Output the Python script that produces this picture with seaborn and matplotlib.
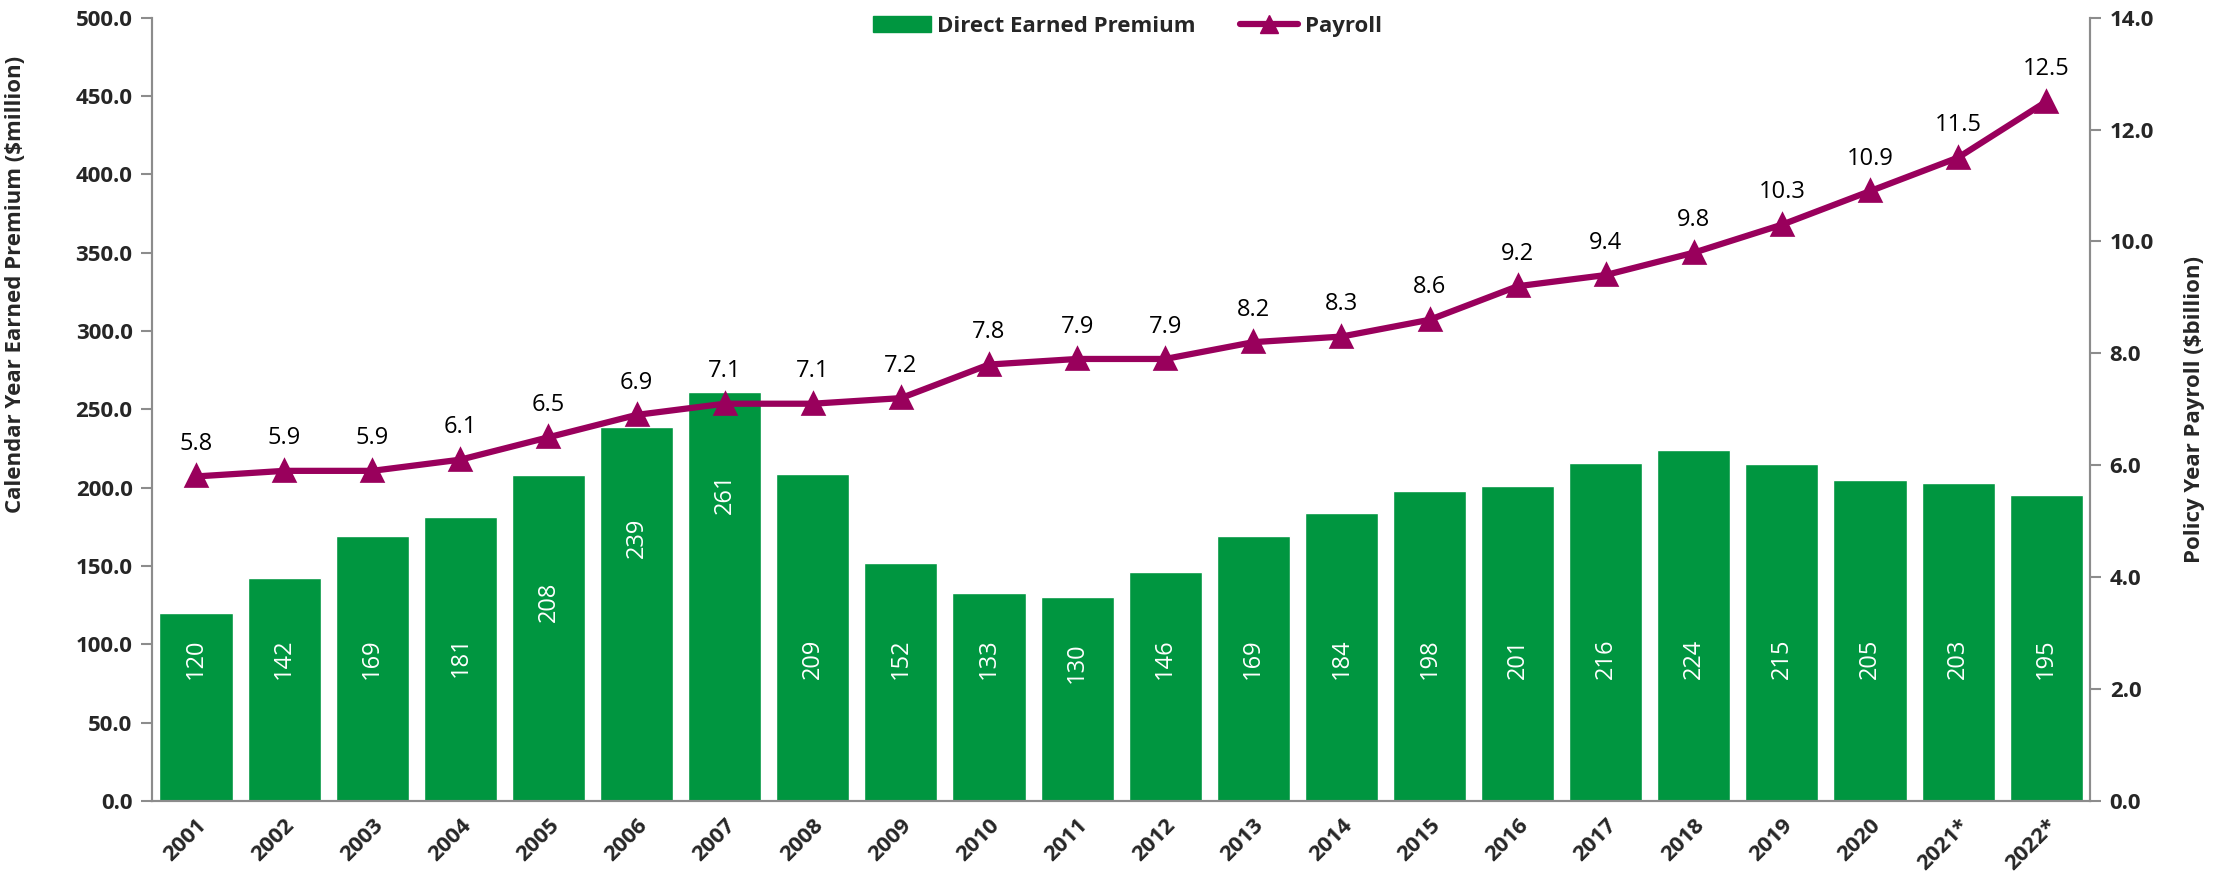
import matplotlib
matplotlib.use("Agg")
import matplotlib.pyplot as plt
import seaborn as sns
import pandas as pd
from matplotlib.patches import Patch
from matplotlib.lines import Line2D

years = ["2001","2002","2003","2004","2005","2006","2007","2008","2009","2010","2011",
         "2012","2013","2014","2015","2016","2017","2018","2019","2020","2021*","2022*"]
premium = [120,142,169,181,208,239,261,209,152,133,130,146,169,184,198,201,216,224,215,205,203,195]
payroll = [5.8,5.9,5.9,6.1,6.5,6.9,7.1,7.1,7.2,7.8,7.9,7.9,8.2,8.3,8.6,9.2,9.4,9.8,10.3,10.9,11.5,12.5]

GREEN = "#009640"
MAROON = "#99005C"
GRAY = "#8c8c8c"

sns.set_theme(style="white")
plt.rcParams['font.family'] = ['Open Sans', 'DejaVu Sans']

df = pd.DataFrame({"year": years, "premium": premium, "payroll": payroll})

fig = plt.figure(figsize=(22.19, 8.85), dpi=100)
ax = fig.add_axes([0.0685, 0.095, 0.8735, 0.885])
sns.barplot(data=df, x="year", y="premium", color=GREEN, saturation=1, width=0.83, ax=ax)
ax.set_ylim(0, 500)
ax.set_xlim(-0.5, len(years) - 0.5)
ax.set_yticks(range(0, 501, 50))
ax.set_yticklabels([f"{v:.1f}" for v in range(0, 501, 50)], fontsize=16, fontweight="bold")
ax.set_xticks(range(len(years)))
ax.set_xticklabels(years, rotation=45, ha="right", rotation_mode="anchor", fontsize=16, fontweight="bold")
ax.tick_params(axis="x", which="major", length=0, pad=10)
ax.set_xticks([i - 0.5 for i in range(len(years) + 1)], minor=True)
ax.tick_params(axis="x", which="minor", length=8, color=GRAY, width=1.5, direction="out")
ax.tick_params(axis="y", length=8, color=GRAY, width=1.5, direction="out", left=True, pad=6)
ax.set_xlabel("")
ax.set_ylabel("Calendar Year Earned Premium ($million)", fontsize=16, fontweight="bold")
ax.yaxis.set_label_coords(-0.065, 0.66)

# bar value labels (white, rotated)
for i, v in enumerate(premium):
    if i < 7:
        yc = max(min(91, v - 42), 91 + max(0, v - 180) * 1.3)
    else:
        yc = min(91, v - 42)
    ax.text(i, yc, str(v), rotation=90, ha="center", va="center", color="white", fontsize=17)

for s in ["left", "right", "bottom"]:
    ax.spines[s].set_color(GRAY)
    ax.spines[s].set_linewidth(1.5)
ax.spines["top"].set_visible(False)

ax2 = ax.twinx()
sns.pointplot(data=df, x="year", y="payroll", color=MAROON, markers="^", linestyles="-",
              ax=ax2, markersize=13, linewidth=4.5)
ax2.set_ylim(0, 14)
ax2.set_xlim(-0.5, len(years) - 0.5)
ax2.set_yticks([0, 2, 4, 6, 8, 10, 12, 14])
ax2.set_yticklabels([f"{v:.1f}" for v in [0, 2, 4, 6, 8, 10, 12, 14]], fontsize=16, fontweight="bold")
ax2.tick_params(axis="y", length=8, color=GRAY, width=1.5, direction="out", right=True, pad=6)
ax2.set_ylabel("Policy Year Payroll ($billion)", fontsize=16, fontweight="bold")
ax2.yaxis.set_label_coords(1.0485, 0.5)
ax2.set_xlabel("")
for s in ["left", "right", "bottom"]:
    ax2.spines[s].set_color(GRAY)
    ax2.spines[s].set_linewidth(1.5)
ax2.spines["top"].set_visible(False)

for i, v in enumerate(payroll):
    ax2.annotate(f"{v:.1f}", (i, v), xytext=(0, 19), textcoords="offset points",
                 ha="center", va="baseline", fontsize=17, color="black")

handles = [Patch(color=GREEN, label="Direct Earned Premium"),
           Line2D([0], [0], color=MAROON, lw=4.5, marker="^", markersize=13, label="Payroll")]
fig.legend(handles=handles, loc="upper center", bbox_to_anchor=(0.508, 1.005), ncol=2,
           frameon=False, prop={"size": 16, "weight": "bold"}, handlelength=2.6, columnspacing=2.0,
           handletextpad=0.3)

fig.savefig("out.png", dpi=100)
